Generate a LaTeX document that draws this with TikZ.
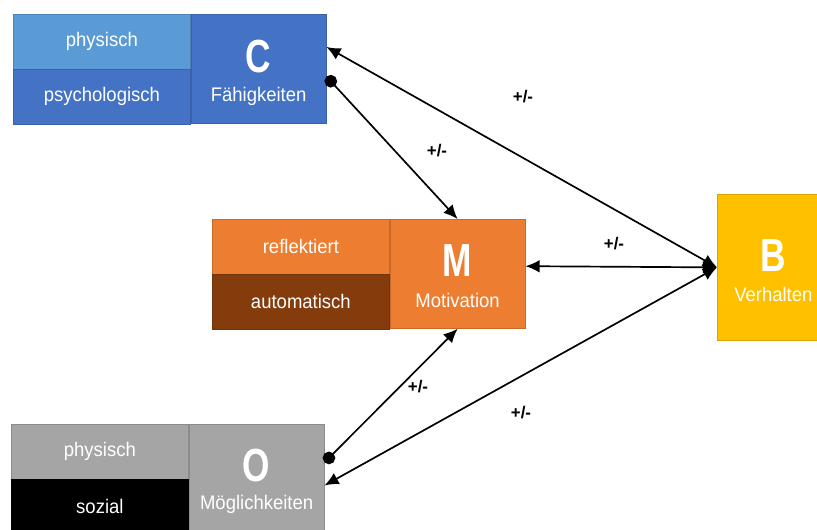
\documentclass[tikz,border=0pt]{standalone}
\usepackage{fontspec}
\usepackage{xcolor}
\setmainfont{Liberation Sans}
\newfontfamily\boxfont[FakeStretch=0.94]{Liberation Sans}
\newfontfamily\letterfont[FakeStretch=0.76]{Liberation Sans}
\usetikzlibrary{arrows.meta,calc,positioning}
\definecolor{cblue}{HTML}{4472C4}
\definecolor{clight}{HTML}{5B9BD5}
\definecolor{corange}{HTML}{ED7D31}
\definecolor{cbrown}{HTML}{843C0C}
\definecolor{cgray}{HTML}{A5A5A5}
\definecolor{cgold}{HTML}{FFC000}
\tikzset{%
	partbox/.style  = {rectangle, anchor=north west, minimum width=4.425cm, minimum height=1.3625cm, inner sep=0pt, text=white, font=\boxfont\fontsize{14}{16}\selectfont, draw=#1!85!black, fill=#1, line width=0.5pt},
	mainbox/.style  = {rectangle, anchor=north west, minimum width=3.375cm, minimum height=2.725cm, inner sep=0pt, draw=#1!85!black, fill=#1, line width=0.5pt},
	bigletter/.style= {text=white, inner sep=0pt, font=\letterfont\bfseries\fontsize{33}{34}\selectfont},
	boxname/.style  = {text=white, inner sep=0pt, font=\boxfont\fontsize{14}{16}\selectfont},
	sign/.style     = {inner sep=1pt, font=\bfseries\fontsize{12}{13}\selectfont},
	arrow/.style    = {line width=1.2pt, {Latex[length=10pt,width=9pt]}-{Latex[length=10pt,width=9pt]}},
	dotarrow/.style = {line width=1.2pt, {Circle[length=9pt]}-{Latex[length=10pt,width=9pt]}},
}

\begin{document}
\begin{tikzpicture}[x=0.025cm,y=-0.025cm]
	\clip (0,0) rectangle (817,529);
	\fill[white] (0,0) rectangle (817,529);
	
	% C: capabilities
	\node[partbox=clight] (Cphys) at (13,14) {physisch};
	\node[partbox=cblue] (Cpsych) at (Cphys.south west) {psychologisch};
	\node[mainbox=cblue] (Cmain) at (Cphys.north east) {};
	\node[bigletter] (Cletter) at ([yshift=0.3cm]Cmain.center) {C};
	\node[boxname] (Cname) at ([yshift=-0.68cm]Cmain.center) {Fähigkeiten};
	
	% M: motivation
	\node[partbox=corange] (Mrefl) at (212,219) {reflektiert};
	\node[partbox=cbrown] (Mauto) at (Mrefl.south west) {automatisch};
	\node[mainbox=corange] (Mmain) at (Mrefl.north east) {};
	\node[bigletter] (Mletter) at ([yshift=0.33cm]Mmain.center) {M};
	\node[boxname] (Mname) at ([yshift=-0.66cm]Mmain.center) {Motivation};
	
	% O: opportunities
	\node[partbox=cgray] (Ophys) at (11,424) {physisch};
	\node[partbox=black] (Osoz) at (Ophys.south west) {sozial};
	\node[mainbox=cgray] (Omain) at (Ophys.north east) {};
	\node[bigletter] (Oletter) at ([yshift=0.33cm]Omain.center) {O};
	\node[boxname] (Oname) at ([yshift=-0.64cm]Omain.center) {Möglichkeiten};
	
	% B: behaviour
	\node[mainbox=cgold, minimum width=2.8cm, minimum height=3.65cm] (Bmain) at (717,194) {};
	\node[bigletter] (Bletter) at ([yshift=0.3cm]Bmain.center) {B};
	\node[boxname] (Bname) at ([yshift=-0.67cm]Bmain.center) {Verhalten};
	
	% connectors
	\draw[arrow] (Bmain.west) -- ($(Cmain.north east)!0.3!(Cmain.south east)$);
	\draw[arrow] (Bmain.west) -- ($(Mmain.north east)!0.43!(Mmain.south east)$);
	\draw[arrow] (Bmain.west) -- ($(Omain.north east)!0.56!(Omain.south east)$);
	\draw[dotarrow] ($(Cmain.north east)!0.57!(Cmain.south east)$) -- (Mmain.north);
	\draw[dotarrow] ($(Omain.north east)!0.35!(Omain.south east)$) -- (Mmain.south);
	
	% signs
	\node[sign] (sCB) at (523,97) {+/-};
	\node[sign] (sCM) at (437,151) {+/-};
	\node[sign] (sMB) at (614,244) {+/-};
	\node[sign] (sOM) at (418,387) {+/-};
	\node[sign] (sOB) at (521,413) {+/-};
\end{tikzpicture}
\end{document}
